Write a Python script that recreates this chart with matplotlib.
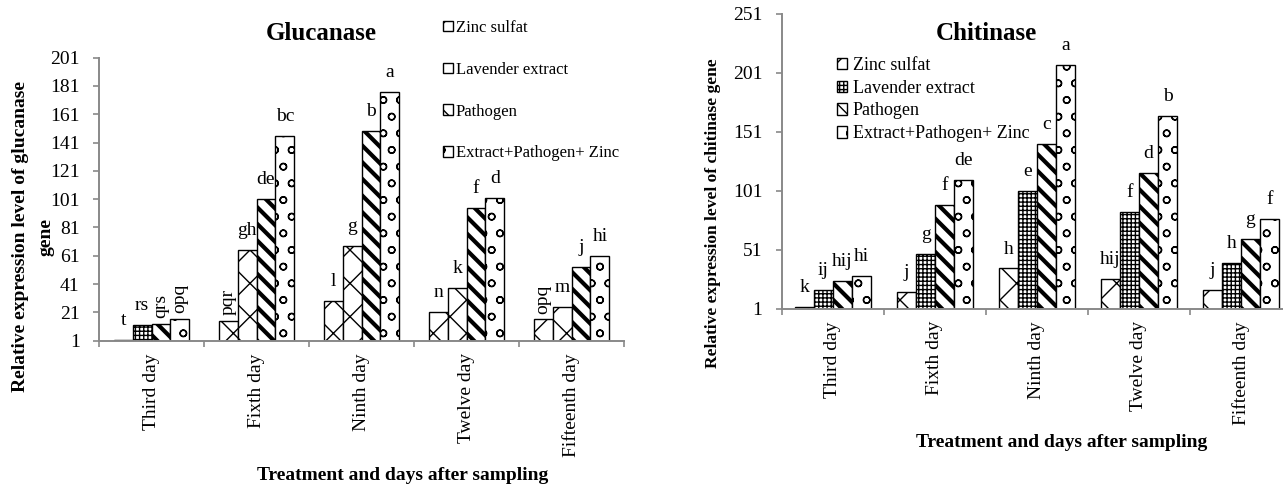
import matplotlib
matplotlib.use("Agg")
import matplotlib.pyplot as plt
import numpy as np

plt.rcParams['font.family'] = ['Liberation Serif', 'DejaVu Serif']
plt.rcParams['hatch.linewidth'] = 1.0

days = ["Third day", "Fixth day", "Ninth day", "Twelve day", "Fifteenth day"]
treatments = ["Zinc sulfat", "Lavender extract", "Pathogen", "Extract+Pathogen+ Zinc"]

# Glucanase values
gluc_zinc = [1.5, 15, 29, 21.5, 16]
gluc_lav = [12, 65, 68, 38, 25]
gluc_path = [13, 101, 149, 95, 53]
gluc_ext = [16.5, 146, 177, 102, 61]
gluc_zinc_let = ["t", "pqr", "l", "n", "opq"]
gluc_lav_let = ["rs", "gh", "g", "k", "m"]
gluc_path_let = ["qrs", "de", "b", "f", "j"]
gluc_ext_let = ["opq", "bc", "a", "d", "hi"]

# Chitinase values
chit_zinc = [2, 14.7, 35, 25.7, 16.6]
chit_lav = [17, 47.5, 101, 83, 39.7]
chit_path = [24, 88.5, 141, 116, 59.7]
chit_ext = [29, 110.5, 207.5, 164.5, 77]
chit_zinc_let = ["k", "j", "h", "hij", "j"]
chit_lav_let = ["ij", "g", "e", "f", "h"]
chit_path_let = ["hij", "f", "c", "d", "g"]
chit_ext_let = ["hi", "de", "a", "b", "f"]

GRAY = '#898989'


def draw(ax, series, letters, hatches, width, ymax, step, rotate_long):
    x = np.arange(len(days))
    handles = []
    for k, (vals, lets) in enumerate(zip(series, letters)):
        pos = x + (k - 1.5) * width
        hs = hatches[k]
        for i in range(len(vals)):
            h = hs[i] if isinstance(hs, list) else hs
            b = ax.bar(pos[i], vals[i] - 1, width, bottom=1, color='white',
                       edgecolor='black', linewidth=1.0, hatch=h)[0]
            if h == '\\\\':
                try:
                    b.set_hatch_linewidth(3.0)
                except AttributeError:
                    pass
            if i == 1:
                handles.append(b)
            if rotate_long and len(lets[i]) >= 3:
                ax.annotate(lets[i], (pos[i], vals[i]), xytext=(0, 4),
                            textcoords='offset points', ha='center', va='bottom',
                            rotation=90, fontsize=14)
            else:
                ax.annotate(lets[i], (pos[i], vals[i]), xytext=(0, 14),
                            textcoords='offset points', ha='center', va='center',
                            fontsize=14)
    ax.set_xlim(-0.5, len(days) - 0.5)
    ax.set_ylim(1, ymax)
    ax.set_yticks(np.arange(1, ymax + 1, step))
    ax.set_xticks(np.arange(-0.5, len(days), 1.0))
    ax.set_xticklabels([])
    ax.set_xticks(x, minor=True)
    ax.set_xticklabels(days, minor=True, rotation=90, va='top', fontsize=14)
    for s in ['top', 'right']:
        ax.spines[s].set_visible(False)
    for s in ['left', 'bottom']:
        ax.spines[s].set_color(GRAY)
        ax.spines[s].set_linewidth(1.4)
    ax.tick_params(axis='y', colors=GRAY, labelcolor='black', labelsize=14,
                   length=4, width=1.2, pad=10)
    ax.tick_params(axis='x', which='major', colors=GRAY, length=4, width=1.2)
    ax.tick_params(axis='x', which='minor', length=0, pad=9)
    return handles


fig = plt.figure(figsize=(12.83, 4.86), dpi=100)

# Glucanase
ax1 = fig.add_axes([0.0772, 0.2990, 0.4092, 0.5823])
hd1 = draw(ax1, [gluc_zinc, gluc_lav, gluc_path, gluc_ext],
           [gluc_zinc_let, gluc_lav_let, gluc_path_let, gluc_ext_let],
           ['x', ['++++', 'x', 'x', 'x', 'x'], '\\\\', 'o'],
           0.18, 201, 20, True)
fig.text(0.2502, 0.932, "Glucanase", ha='center', va='center',
         fontsize=18, fontweight='bold')
fig.text(0.0160, 0.514, "Relative expression level of glucanase",
         rotation=90, ha='center', va='center', fontsize=14, fontweight='bold')
fig.text(0.0362, 0.512, "gene", rotation=90, ha='center', va='center',
         fontsize=14, fontweight='bold')
fig.text(0.3141, 0.0206, "Treatment and days after sampling", ha='center',
         va='center', fontsize=14, fontweight='bold')

# Chitinase
ax2 = fig.add_axes([0.6095, 0.3652, 0.3975, 0.6060])
hd2 = draw(ax2, [chit_zinc, chit_lav, chit_path, chit_ext],
           [chit_zinc_let, chit_lav_let, chit_path_let, chit_ext_let],
           ['x', '++++', '\\\\', 'o'],
           0.186, 251, 50, False)
fig.text(0.7685, 0.932, "Chitinase", ha='center', va='center',
         fontsize=18, fontweight='bold')
fig.text(0.5557, 0.5617, "Relative expression level of chitinase gene",
         rotation=90, ha='center', va='center', fontsize=12.5, fontweight='bold')
fig.text(0.8277, 0.0905, "Treatment and days after sampling", ha='center',
         va='center', fontsize=14, fontweight='bold')

# legends
fig.legend(hd1, treatments, loc='upper left', bbox_to_anchor=(0.345, 0.959),
           frameon=False, fontsize=12, handlelength=0.6, handleheight=0.6,
           handletextpad=0.2, labelspacing=1.55, borderpad=0, borderaxespad=0)
fig.legend(hd2, treatments, loc='upper left', bbox_to_anchor=(0.652, 0.883),
           frameon=False, fontsize=13, handlelength=0.6, handleheight=0.6,
           handletextpad=0.3, labelspacing=0.32, borderpad=0, borderaxespad=0)

fig.savefig("out.png", dpi=100)
